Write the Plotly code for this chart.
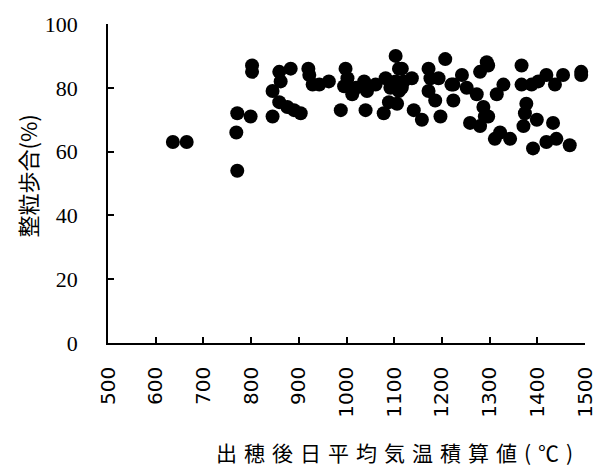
import plotly.graph_objects as go

# 出穂後日平均気温積算値 (℃)
heat_sum = [636, 665, 769, 771, 799, 771, 802, 802, 859, 883, 862, 845, 920, 922, 929,
            859, 876, 890, 904, 845, 943, 963, 998, 1002, 1012, 1037, 1043, 1061, 1082,
            1103, 1110, 1092, 1106, 988, 1040, 1078, 1120, 1116, 1116, 1103, 1137, 1172,
            1207, 1176, 1193, 1172, 1186, 1224, 1242, 1224, 1141, 1158, 1197, 1252, 1273,
            1287, 1259, 1280, 1294, 1280, 1315, 1311, 1297, 1329, 1367, 1367, 1402, 1419,
            1437, 1454, 1492, 1377, 1374, 1399, 1371, 1433, 1297, 1322, 1343, 1391, 1419,
            1440, 1468, 1220, 1290, 1388, 1020, 1492, 995, 1089, 1110]
# 整粒歩合 (%)
whole_grain = [63, 63, 66, 72, 71, 54, 87, 85, 85, 86, 82, 79, 86, 84, 81,
               75.5, 74, 73, 72, 71, 81, 82, 86, 83, 78, 82, 79, 81, 83,
               90, 86, 80, 75, 73, 73, 72, 82, 86, 80, 82, 83, 86,
               89, 83, 83, 79, 76, 81, 84, 76, 73, 70, 71, 80, 78,
               74, 69, 68, 88, 85, 78, 64, 87, 81, 87, 81, 82, 84,
               81, 84, 85, 75, 72, 70, 68, 69, 71, 66, 64, 61, 63,
               64, 62, 81, 71, 81, 80, 84, 80.5, 75.5, 79]

x_ticks = [500, 600, 700, 800, 900, 1000, 1100, 1200, 1300, 1400, 1500]
y_ticks = [0, 20, 40, 60, 80, 100]
x_title = "出穂後日平均気温積算値(℃)"
y_title = "整粒歩合(%)"

fig = go.Figure()
fig.add_trace(go.Scatter(
    x=heat_sum, y=whole_grain, mode="markers",
    marker=dict(size=14, color="black", line=dict(width=0)),
    cliponaxis=False, showlegend=False,
))

pw, ph = 609 - 108 - 22, 466 - 18 - 123


def px_to_paper(px, py):
    return (px - 108) / pw, 1 - (py - 18) / ph


xt_x, xt_y = px_to_paper(399, 454)
yt_x, yt_y = px_to_paper(27, 173)

fig.update_layout(
    width=609, height=466,
    margin=dict(l=108, r=22, t=18, b=123),
    paper_bgcolor="white", plot_bgcolor="white",
    xaxis=dict(
        range=[500, 1500], tickvals=x_ticks, ticktext=[str(v) for v in x_ticks],
        tickangle=-90, ticks="inside", ticklen=6, tickwidth=1.5, tickcolor="black",
        showline=True, linecolor="black", linewidth=1.5, showgrid=False, zeroline=False,
        tickfont=dict(family="DejaVu Sans", size=20, color="black"),
        ticklabelstandoff=14,
    ),
    yaxis=dict(
        range=[0, 100], tickvals=y_ticks,
        ticks="inside", ticklen=6, tickwidth=1.5, tickcolor="black",
        showline=True, linecolor="black", linewidth=1.5, showgrid=False, zeroline=False,
        tickfont=dict(family="Liberation Serif", size=22, color="black"),
        ticklabelstandoff=24,
    ),
    annotations=[
        dict(text='<span style="letter-spacing:7px">' + x_title + '</span>',
             xref="paper", yref="paper", x=xt_x, y=xt_y,
             xanchor="center", yanchor="middle",
             showarrow=False, font=dict(family="Noto Sans CJK JP", size=21, color="black")),
        dict(text=y_title, xref="paper", yref="paper", x=yt_x, y=yt_y, textangle=-90,
             xanchor="center", yanchor="middle",
             showarrow=False, font=dict(family="Noto Sans CJK JP", size=22, color="black")),
    ],
)

fig.write_html("out.html")
